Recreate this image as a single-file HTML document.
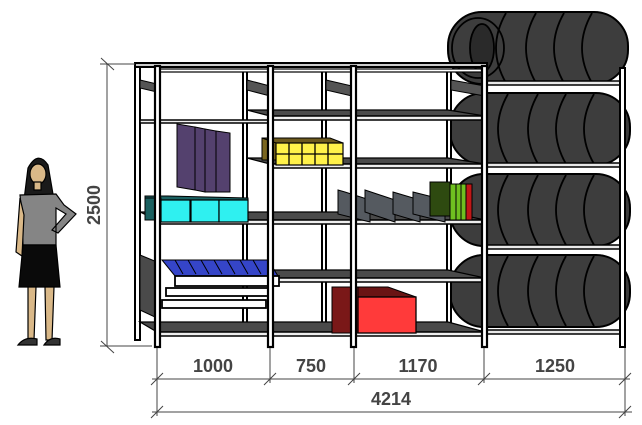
<!DOCTYPE html>
<html><head><meta charset="utf-8"><style>
html,body{margin:0;padding:0;background:#fff;width:642px;height:425px;overflow:hidden}
svg{display:block}
text{font-family:"Liberation Sans",sans-serif;font-weight:bold;fill:#444;font-size:18px}
</style></head><body>
<svg width="642" height="425" viewBox="0 0 642 425" xmlns="http://www.w3.org/2000/svg">
<defs>
<g id="tire">
 <rect x="0" y="0" width="180" height="72" rx="34" fill="#3d3d3d" stroke="#000" stroke-width="2"/>
 <path d="M58 1 Q38 36 58 71 M88 1 Q68 36 88 71 M116 1 Q96 36 116 71 M144 1 Q124 36 144 71" fill="none" stroke="#000" stroke-width="1.8"/>
</g>
</defs>

<g>
 <use href="#tire" x="448" y="12"/>
 <ellipse cx="478" cy="48" rx="26" ry="30" fill="none" stroke="#000" stroke-width="1.8"/>
 <ellipse cx="482" cy="48" rx="12" ry="24" fill="#2a2a2a" stroke="#000" stroke-width="1.8"/>
 <use href="#tire" x="450" y="93"/>
 <use href="#tire" x="450" y="174"/>
 <use href="#tire" x="450" y="255"/>
</g>
<g fill="#e8e8e8" stroke="#000" stroke-width="1.5">
 <rect x="487" y="81" width="136" height="4"/>
 <rect x="487" y="163" width="136" height="4"/>
 <rect x="487" y="245" width="136" height="4"/>
 <rect x="487" y="330" width="136" height="4"/>
</g>
<rect x="620" y="68" width="5" height="279" fill="#fff" stroke="#000" stroke-width="2"/>

<g fill="#fff" stroke="#000" stroke-width="2">
 <rect x="135" y="64" width="5" height="276"/>
 <rect x="243" y="70" width="4" height="262"/>
 <rect x="322" y="70" width="4" height="262"/>
 <rect x="447" y="70" width="4" height="262"/>
</g>
<g fill="#555" stroke="#000" stroke-width="1">
 <polygon points="140,80 157,84 157,92 140,88"/>
 <polygon points="247,80 270,86 270,96 247,90"/>
 <polygon points="326,80 352,86 352,96 326,90"/>
 <polygon points="451,80 485,86 485,96 451,90"/>
</g>

<g fill="#4a4a4a" stroke="#000" stroke-width="1.2">
 <polygon points="247,110 448,110 485,116 270,116"/>
 <polygon points="247,158 448,158 485,164 270,164"/>
 <polygon points="140,212 448,212 485,220 157,220"/>
 <polygon points="247,270 448,270 485,278 270,278"/>
 <polygon points="140,322 448,322 485,332 157,332"/>
</g>
<g fill="#eee" stroke="#000" stroke-width="1.5">
 <rect x="270" y="116" width="215" height="4"/>
 <rect x="270" y="164" width="215" height="4"/>
 <rect x="157" y="220" width="328" height="4"/>
 <rect x="270" y="278" width="215" height="4"/>
 <rect x="157" y="332" width="328" height="4"/>
 <rect x="140" y="120" width="128" height="3"/>
</g>

<g fill="#54416e" stroke="#000" stroke-width="1">
 <polygon points="177,124 195,127 195,190 177,187"/>
 <polygon points="195,127 205,129 205,192 195,190"/>
 <polygon points="205,129 216,131 216,192 205,192"/>
 <polygon points="216,131 230,133 230,192 216,192"/>
</g>
<polygon points="145,196 168,196 248,198 248,204 160,204 145,204" fill="#1a6060" stroke="#000"/>
<rect x="145" y="198" width="16" height="22" fill="#1a6060" stroke="#000"/>
<g fill="#2ff0f0" stroke="#000" stroke-width="1.2">
 <rect x="161" y="200" width="29" height="22"/>
 <rect x="191" y="200" width="28" height="22"/>
 <rect x="219" y="200" width="29" height="22"/>
</g>
<rect x="262" y="138" width="14" height="22" fill="#7a6620" stroke="#000"/>
<polygon points="262,138 330,138 343,143 276,143" fill="#6d5a1e" stroke="#000"/>
<rect x="276" y="143" width="67" height="22" fill="#fff24a" stroke="#000" stroke-width="1.2"/>
<path d="M276 154H343M289 143V165M302 143V165M315 143V165M328 143V165" stroke="#000" stroke-width="1.3"/>
<g fill="#555a60" stroke="#000" stroke-width="1">
 <polygon points="338,190 345,192 370,200 370,222 338,214"/>
 <polygon points="365,190 395,200 395,222 365,212"/>
 <polygon points="393,192 420,200 420,222 393,214"/>
 <polygon points="413,192 445,200 445,222 413,214"/>
</g>
<rect x="430" y="182" width="20" height="34" fill="#2e4a10" stroke="#000"/>
<g stroke="#000" stroke-width="1">
 <rect x="450" y="184" width="6" height="36" fill="#6fc020"/>
 <rect x="456" y="184" width="5" height="36" fill="#6fc020"/>
 <rect x="461" y="184" width="5" height="36" fill="#6fc020"/>
 <rect x="466" y="184" width="6" height="36" fill="#c01818"/>
</g>
<g fill="#4a4a4a" stroke="#000" stroke-width="1">
 <polygon points="140,255 157,262 157,318 140,310"/>
</g>
<polygon points="162,260 268,260 278,276 175,276" fill="#3545c8" stroke="#000"/>
<path d="M175 260l8 14M188 260l8 14M201 260l8 14M214 260l8 14M227 260l8 14M240 260l8 14M253 260l8 14" stroke="#000"/>
<rect x="175" y="276" width="104" height="10" fill="#fff" stroke="#000" stroke-width="1.8"/>
<rect x="166" y="288" width="106" height="8" fill="#fff" stroke="#000" stroke-width="1.8"/>
<rect x="162" y="300" width="104" height="8" fill="#fff" stroke="#000" stroke-width="1.8"/>
<polygon points="332,287 388,287 416,297 358,297" fill="#6a1414" stroke="#000"/>
<rect x="332" y="287" width="26" height="46" fill="#7a1818" stroke="#000"/>
<rect x="358" y="297" width="58" height="36" fill="#ff3a3a" stroke="#000" stroke-width="1.3"/>

<rect x="135" y="63" width="352" height="4" fill="#ccc" stroke="#000" stroke-width="2"/>
<rect x="157" y="69" width="328" height="3" fill="#fff" stroke="#000" stroke-width="1.2"/>
<g fill="#fff" stroke="#000" stroke-width="2.2">
 <rect x="155" y="66" width="5" height="281"/>
 <rect x="268" y="66" width="5" height="281"/>
 <rect x="351" y="66" width="5" height="281"/>
 <rect x="482" y="66" width="5" height="281"/>
</g>

<g stroke="#444" stroke-width="1" fill="none">
 <line x1="107" y1="64" x2="107" y2="347"/>
 <line x1="100" y1="64" x2="135" y2="64"/>
 <line x1="100" y1="346" x2="152" y2="346"/>
 <line x1="101" y1="58" x2="114" y2="70"/>
 <line x1="101" y1="341" x2="114" y2="353"/>
 <line x1="152" y1="379" x2="630" y2="379"/>
 <line x1="152" y1="412" x2="632" y2="412"/>
 <line x1="157" y1="348" x2="157" y2="416"/>
 <line x1="270" y1="348" x2="270" y2="383"/>
 <line x1="354" y1="348" x2="354" y2="383"/>
 <line x1="484" y1="348" x2="484" y2="383"/>
 <line x1="625" y1="348" x2="625" y2="416"/>
 <path d="M151 385l12-12M264 385l12-12M348 385l12-12M478 385l12-12M619 385l12-12M151 418l12-12M619 418l12-12"/>
</g>
<text x="213" y="372" text-anchor="middle">1000</text>
<text x="311" y="372" text-anchor="middle">750</text>
<text x="418" y="372" text-anchor="middle">1170</text>
<text x="555" y="372" text-anchor="middle">1250</text>
<text x="391" y="405" text-anchor="middle">4214</text>
<text transform="translate(100,205) rotate(-90)" text-anchor="middle">2500</text>

<g stroke="#000" stroke-width="1.2">
 <path d="M28 168 Q38 150 48 165 L54 200 L24 200 Z" fill="#1a1a1a"/>
 <ellipse cx="38" cy="174" rx="8" ry="10" fill="#d9b888"/>
 <rect x="34" y="182" width="7" height="8" fill="#d9b888"/>
 <path d="M20 195 L56 194 L64 205 L76 214 L58 233 L52 230 L66 214 L56 208 L56 245 L23 245 L22 215 Z" fill="#858585"/>
 <path d="M20 198 L16 252 L22 256 L24 215 Z" fill="#d9b888"/>
 <path d="M23 245 L56 245 L60 287 L19 287 Z" fill="#0a0a0a"/>
 <path d="M28 287 L36 287 L34 340 L28 340 Z M45 287 L54 287 L52 340 L46 340 Z" fill="#d9b888"/>
 <path d="M18 345 Q25 336 37 339 L37 345 Z M44 345 Q50 336 60 339 L60 345 Z" fill="#333"/>
</g>
</svg>
</body></html>
